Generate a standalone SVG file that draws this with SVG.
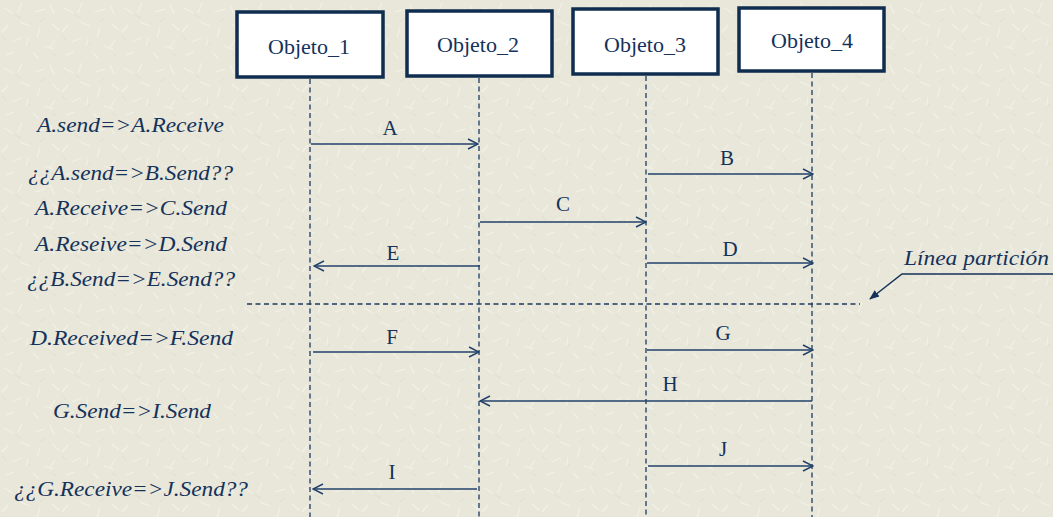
<svg xmlns="http://www.w3.org/2000/svg" width="1053" height="517" viewBox="0 0 1053 517">
  <style>
    .serif { font-family: "Liberation Serif", "Times New Roman", serif; }
    .obj rect { fill: #ffffff; stroke: #0f2d4f; stroke-width: 3.5; }
    .obj text { font-size: 22px; fill: #14325a; text-anchor: middle; }
    .life { stroke: #1d3b62; stroke-width: 1.3; stroke-dasharray: 5 3.5; fill: none; }
    .msg { stroke: #22426b; stroke-width: 1.5; fill: none; marker-end: url(#open); }
    .lbl { font-size: 21px; fill: #14325a; text-anchor: middle; }
    .rule { font-style: italic; font-size: 20.5px; fill: #14325a; }
    .part { stroke: #1d3b62; stroke-width: 1.3; stroke-dasharray: 5 3.5; fill: none; }
  </style>
  <defs>
    <marker id="open" viewBox="0 0 12 12" refX="11" refY="6" markerWidth="12" markerHeight="12" markerUnits="userSpaceOnUse" orient="auto">
      <path d="M1,1 L11,6 L1,11" fill="none" stroke="#22426b" stroke-width="1.5"/>
    </marker>
    <marker id="solid" viewBox="0 0 10 10" refX="9" refY="5" markerWidth="10" markerHeight="10" markerUnits="userSpaceOnUse" orient="auto">
      <path d="M0,1 L10,5 L0,9 Z" fill="#14325a"/>
    </marker>
    <!-- light paper texture -->
    <pattern id="paper" width="60" height="60" patternUnits="userSpaceOnUse">
      <rect width="60" height="60" fill="#e8e7da"/>
      <g stroke="#f4f3ea" stroke-width="1.2" opacity="0.8">
        <path d="M4,8 l9,5 M22,3 l-4,10 M35,12 l10,-3 M50,5 l4,9 M8,25 l-6,7 M20,22 l10,4 M40,28 l-3,9 M52,24 l7,6 M12,42 l9,-4 M28,38 l-2,10 M44,46 l9,3 M6,55 l8,-3 M33,53 l6,6 M55,40 l-5,8"/>
      </g>
      <g stroke="#d9d8ca" stroke-width="1" opacity="0.6">
        <path d="M15,15 l6,3 M45,18 l-5,4 M25,48 l5,-4 M2,36 l4,4 M56,56 l-4,-3"/>
      </g>
    </pattern>
  </defs>

  <!-- background -->
  <rect x="0" y="0" width="1053" height="517" fill="url(#paper)"/>

  <!-- lifelines -->
  <g id="lifelines">
    <line class="life" x1="310" y1="79" x2="310" y2="517"/>
    <line class="life" x1="479" y1="78" x2="479" y2="517"/>
    <line class="life" x1="646" y1="76" x2="646" y2="517"/>
    <line class="life" x1="812" y1="73" x2="812" y2="517"/>
  </g>

  <!-- objects -->
  <g id="objeto1" class="obj serif">
    <rect x="237" y="12" width="146" height="65"/>
    <text x="309" y="54">Objeto_1</text>
  </g>
  <g id="objeto2" class="obj serif">
    <rect x="407" y="11" width="145" height="65"/>
    <text x="478" y="52">Objeto_2</text>
  </g>
  <g id="objeto3" class="obj serif">
    <rect x="573" y="9" width="145" height="65"/>
    <text x="645" y="52">Objeto_3</text>
  </g>
  <g id="objeto4" class="obj serif">
    <rect x="739" y="8" width="145" height="63"/>
    <text x="812" y="48">Objeto_4</text>
  </g>

  <!-- messages -->
  <g id="messages">
    <line class="msg" x1="311" y1="144" x2="478" y2="144"/>
    <line class="msg" x1="648" y1="174" x2="813" y2="174"/>
    <line class="msg" x1="480" y1="222" x2="646" y2="222"/>
    <line class="msg" x1="647" y1="263" x2="813" y2="263"/>
    <line class="msg" x1="480" y1="266" x2="314" y2="266"/>
    <line class="msg" x1="313" y1="352" x2="479" y2="352"/>
    <line class="msg" x1="647" y1="350" x2="813" y2="350"/>
    <line class="msg" x1="812" y1="401" x2="480" y2="401"/>
    <line class="msg" x1="648" y1="466" x2="813" y2="466"/>
    <line class="msg" x1="477" y1="489" x2="313" y2="489"/>
  </g>

  <g id="message-labels" class="serif">
    <text class="lbl" x="390" y="135">A</text>
    <text class="lbl" x="727" y="165">B</text>
    <text class="lbl" x="563" y="211">C</text>
    <text class="lbl" x="730" y="256">D</text>
    <text class="lbl" x="393" y="260">E</text>
    <text class="lbl" x="392" y="344">F</text>
    <text class="lbl" x="723" y="340">G</text>
    <text class="lbl" x="670" y="391">H</text>
    <text class="lbl" x="723" y="456">J</text>
    <text class="lbl" x="392" y="479">I</text>
  </g>

  <!-- rules on the left -->
  <g id="rules" class="serif">
    <text class="rule" x="37" y="132" textLength="187" lengthAdjust="spacingAndGlyphs">A.send=&gt;A.Receive</text>
    <text class="rule" x="28" y="180" textLength="205" lengthAdjust="spacingAndGlyphs">¿¿A.send=&gt;B.Send??</text>
    <text class="rule" x="35" y="215" textLength="192" lengthAdjust="spacingAndGlyphs">A.Receive=&gt;C.Send</text>
    <text class="rule" x="35" y="251" textLength="192" lengthAdjust="spacingAndGlyphs">A.Reseive=&gt;D.Send</text>
    <text class="rule" x="27" y="286" textLength="208" lengthAdjust="spacingAndGlyphs">¿¿B.Send=&gt;E.Send??</text>
    <text class="rule" x="30" y="345" textLength="203" lengthAdjust="spacingAndGlyphs">D.Received=&gt;F.Send</text>
    <text class="rule" x="53" y="418" textLength="158" lengthAdjust="spacingAndGlyphs">G.Send=&gt;I.Send</text>
    <text class="rule" x="14" y="496" textLength="234" lengthAdjust="spacingAndGlyphs">¿¿G.Receive=&gt;J.Send??</text>
  </g>

  <!-- partition line with its callout -->
  <g id="particion">
    <line class="part" x1="247" y1="304" x2="860" y2="304"/>
    <text class="rule serif" x="904" y="265" textLength="145" lengthAdjust="spacingAndGlyphs">Línea partición</text>
    <path d="M1053,274 L902,274 L870,299" fill="none" stroke="#14325a" stroke-width="1.5" marker-end="url(#solid)"/>
  </g>
</svg>
